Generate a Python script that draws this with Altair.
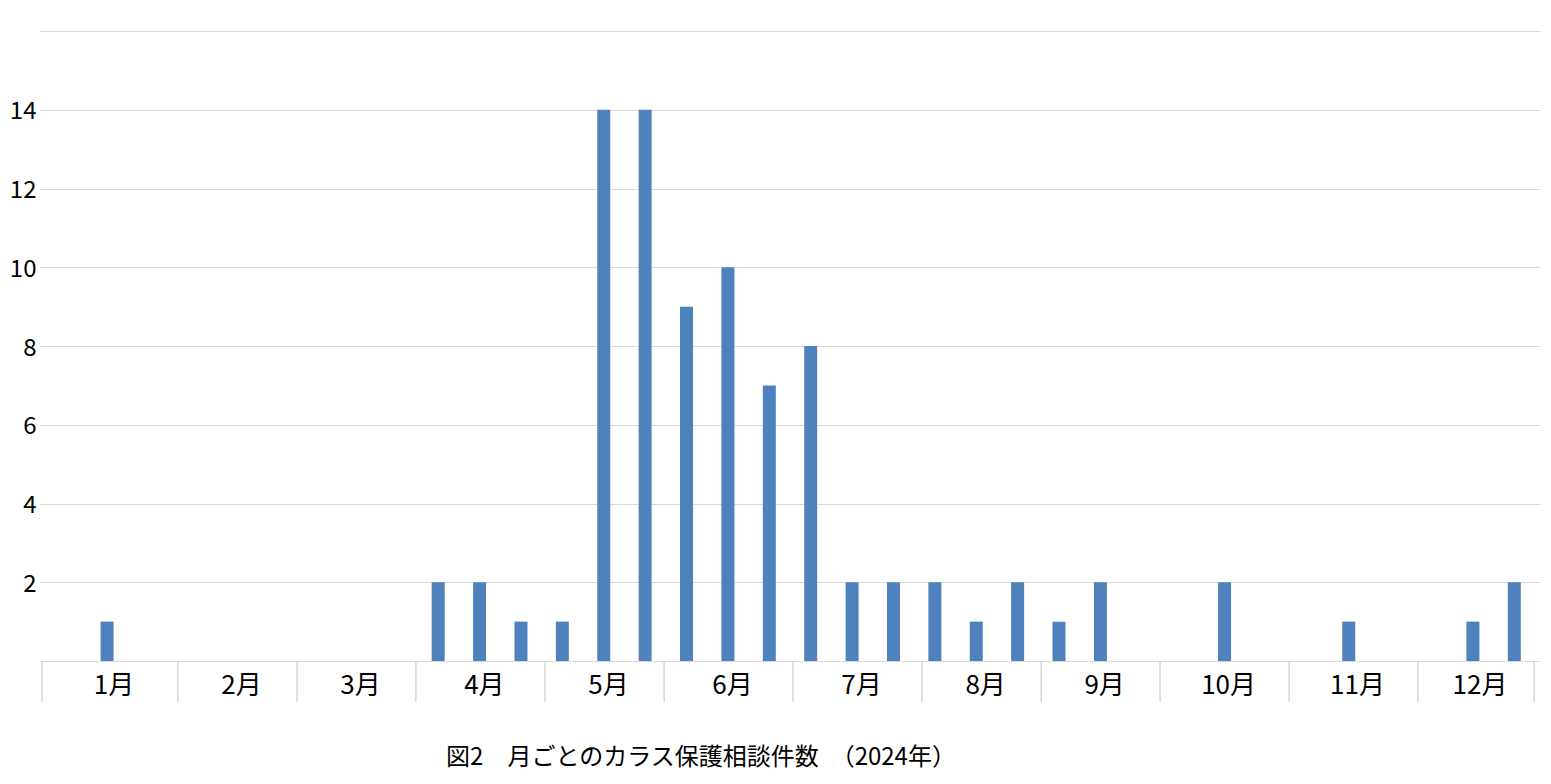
import altair as alt
import pandas as pd

# ---- data ----
months = ["1月", "2月", "3月", "4月", "5月", "6月", "7月", "8月", "9月", "10月", "11月", "12月"]
thirds = ["上旬", "中旬", "下旬"]
# 36 ten-day slots (上旬/中旬/下旬 for each month)
counts = [0, 1, 0,   0, 0, 0,   0, 0, 0,   2, 2, 1,
          1, 14, 14, 9, 10, 7,  8, 2, 2,   2, 1, 2,
          1, 2, 0,   0, 2, 0,   0, 1, 0,   0, 1, 2]
# month group boundaries on the category axis (in slot units, as drawn in the source)
month_edges = [-0.07, 3.21, 6.09, 8.96, 12.08, 14.96, 18.07, 21.19, 24.07, 26.94, 30.06, 33.17, 35.98]
title_text = "図2　月ごとのカラス保護相談件数　（2024年）"

FONT = "Noto Sans CJK JP"
GRID = "#d9d9d9"
BAR = "#4f81bd"
W, H = 1500, 630
PAD_L = 32

bars_df = pd.DataFrame({
    "slot": list(range(len(counts))),
    "month": [months[i // 3] for i in range(len(counts))],
    "period": [thirds[i % 3] for i in range(len(counts))],
    "count": counts,
})
bars_df["pos"] = bars_df["slot"] + 0.5
bars_df = bars_df[bars_df["count"] > 0]

edges_df = pd.DataFrame({"edge": month_edges})
labels_df = pd.DataFrame({
    "month": months,
    "mid": [(month_edges[i] + month_edges[i + 1]) / 2 for i in range(len(months))],
})
title_df = pd.DataFrame({"t": [title_text]})

xscale = alt.Scale(domain=[0, 36], nice=False, zero=False)
yscale = alt.Scale(domain=[0, 16], nice=False)

bars = alt.Chart(bars_df).mark_bar(size=13, color=BAR).encode(
    x=alt.X("pos:Q", scale=xscale, axis=None),
    y=alt.Y("count:Q", scale=yscale, title=None,
            axis=alt.Axis(values=list(range(0, 17, 2)), grid=True, gridColor=GRID,
                          gridWidth=1, domain=False, ticks=False, labelPadding=4,
                          labelFont=FONT, labelFontSize=24, labelColor="#000000",
                          labelBaseline="middle", labelOffset=2,
                          labelExpr="datum.value == 0 || datum.value == 16 ? '' : datum.label")),
    tooltip=["month:N", "period:N", "count:Q"],
)

seps = alt.Chart(edges_df).mark_rule(color=GRID, strokeWidth=1.5).encode(
    x=alt.X("edge:Q", scale=xscale, axis=None),
    y=alt.value(H),
    y2=alt.value(H + 41),
)

mlabels = alt.Chart(labels_df).mark_text(
    font=FONT, fontSize=26, color="#000000", baseline="middle", align="center", dx=4
).encode(
    x=alt.X("mid:Q", scale=xscale, axis=None),
    y=alt.value(H + 25),
    text="month:N",
)

title = alt.Chart(title_df).mark_text(
    font=FONT, fontSize=24, color="#000000", baseline="middle", align="center"
).encode(
    x=alt.value(663 - (PAD_L - 30)),
    y=alt.value(H + 97),
    text="t:N",
)

chart = alt.layer(bars, seps, mlabels, title).properties(
    width=W, height=H,
    autosize=alt.AutoSizeParams(type="none"),
    padding={"left": PAD_L, "top": 23, "right": 2, "bottom": 114},
    background="#ffffff",
).configure_view(stroke=None)

chart.save("out.html", embed_options={"renderer": "svg", "actions": False})
